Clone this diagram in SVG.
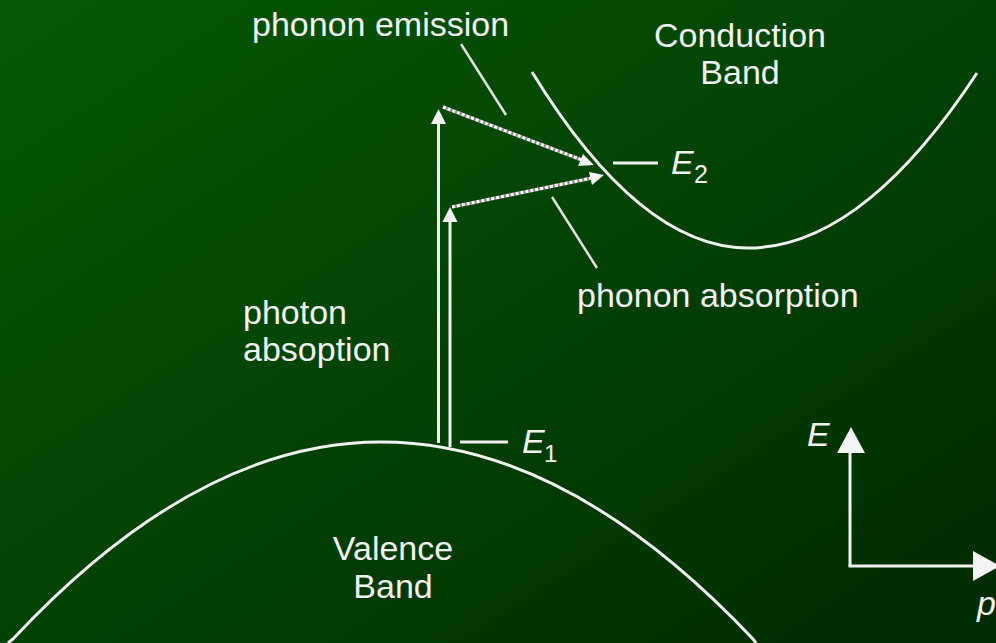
<svg xmlns="http://www.w3.org/2000/svg" width="996" height="643" viewBox="0 0 996 643">
<defs>
<linearGradient id="bg" x1="0" y1="0" x2="1" y2="1">
<stop offset="0" stop-color="#065806"/>
<stop offset="0.55" stop-color="#023f02"/>
<stop offset="1" stop-color="#012a01"/>
</linearGradient>
<style>
.t{font-family:"Liberation Sans",Arial,sans-serif;font-size:34px;fill:#f2f2f2}
.i{font-style:italic}
.ln{stroke:#f0f0f0;stroke-width:3;fill:none}
.thin{stroke:#e0e0e0;stroke-width:2.5;fill:none}
.dbase{stroke:#8a8a8a;stroke-width:3.5;fill:none}
.dash{stroke:#ffffff;stroke-width:3;fill:none;stroke-dasharray:3 2}
.ah{fill:#f4f4f4}
</style>
</defs>
<rect x="0" y="0" width="996" height="643" fill="url(#bg)"/>

<g id="valence-band">
<path class="ln" d="M8,643 L13,639 Q197,442 381,442 Q567,442 753,639 L756,643"/>
<text class="t" x="393" y="560" text-anchor="middle">Valence</text>
<text class="t" x="393" y="598" text-anchor="middle">Band</text>
</g>

<g id="conduction-band">
<path class="ln" d="M532,72 Q640,248 748,248 Q862,248 977,73"/>
<text class="t" x="740" y="47" text-anchor="middle">Conduction</text>
<text class="t" x="740" y="84" text-anchor="middle">Band</text>
</g>

<g id="e1-label">
<line class="ln" x1="460" y1="442" x2="508" y2="442"/>
<text class="t i" x="522" y="453">E</text>
<text class="t" x="544" y="462" style="font-size:24px">1</text>
</g>

<g id="e2-label">
<line class="ln" x1="613" y1="163" x2="658" y2="163"/>
<text class="t i" x="671" y="174">E</text>
<text class="t" x="694" y="183" style="font-size:25px">2</text>
</g>

<g id="photon-label">
<text class="t" x="243" y="324">photon</text>
<text class="t" x="243" y="361">absoption</text>
</g>

<g id="phonon-emission-label">
<text class="t" x="252" y="36">phonon emission</text>
</g>

<g id="phonon-absorption-label">
<text class="t" x="577" y="307">phonon absorption</text>
</g>

<g id="axes">
<line class="ln" x1="850" y1="450" x2="850" y2="566"/>
<line class="ln" x1="848.5" y1="566" x2="975" y2="566"/>
<polygon class="ah" points="851,427 865,453 837,453"/>
<polygon class="ah" points="1000,566 973,551 973,581"/>
<text class="t i" x="807" y="446">E</text>
<text class="t i" x="977" y="615">p</text>
</g>

<g id="connectors">
<line class="ln" x1="438.5" y1="443" x2="438.5" y2="121"/>
<polygon class="ah" points="438.5,109 446,124 431,124"/>
<line class="ln" x1="450" y1="447" x2="450" y2="220"/>
<polygon class="ah" points="450,207 457.5,222 442.5,222"/>
<line class="dbase" x1="443" y1="107" x2="582" y2="160"/>
<line class="dash" x1="443" y1="107" x2="582" y2="160"/>
<polygon class="ah" points="594,165 578,166 583,154"/>
<line class="dbase" x1="452" y1="207" x2="592" y2="178"/>
<line class="dash" x1="452" y1="207" x2="592" y2="178"/>
<polygon class="ah" points="604,175 592,185 589,172"/>
<line class="thin" x1="461" y1="44" x2="506" y2="115"/>
<line class="thin" x1="552" y1="197" x2="597" y2="268"/>
</g>
</svg>
